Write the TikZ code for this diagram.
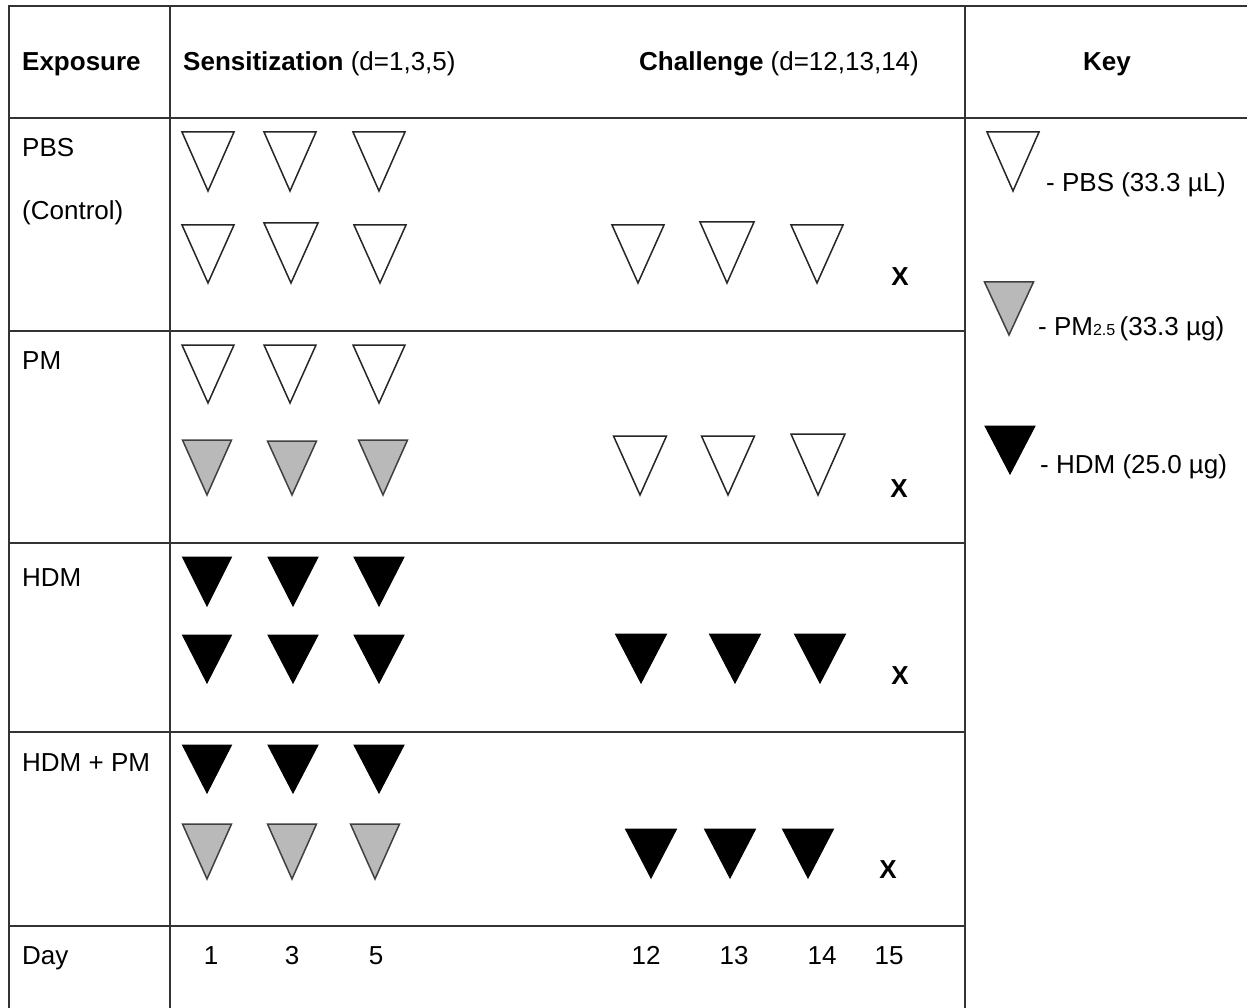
\documentclass[tikz,border=0pt]{standalone}
\usepackage{fontspec}
\setmainfont{Liberation Sans}
\newcommand\mytri[5]{\draw[#1] ({#2-#4/2},#3) -- ({#2+#4/2},#3) -- (#2,{#3+#5}) -- cycle;}
\begin{document}
\begin{tikzpicture}[x=1pt,y=-1pt,
  gridline/.style={draw=black!80, line width=2pt},
  wtri/.style={draw=black!85, fill=white, line width=1.5pt, line join=miter},
  gtri/.style={draw=black!75, fill=gray!55, line width=1.5pt, line join=miter},
  btri/.style={draw=black, fill=black, line width=1pt, line join=miter},
  txt/.style={anchor=base west, inner sep=0pt, font=\fontsize{26}{30}\selectfont},
  ctxt/.style={anchor=base, inner sep=0pt, font=\fontsize{26}{30}\selectfont}]
\useasboundingbox[fill=white] (0,0) rectangle (1247,1008);
% table
\draw[gridline] (9,1008) -- (9,6) -- (1247,6);
\draw[gridline] (9,118) -- (1247,118);
\draw[gridline] (170,6) -- (170,1008);
\draw[gridline] (965,6) -- (965,1008);
\foreach \yy in {331,543,732,926} \draw[gridline] (9,\yy) -- (965,\yy);
% headers
\node[txt] (hexp) at (22,71) {\textbf{Exposure}};
\node[txt] (hsens) at (183,71) {\textbf{Sensitization} (d=1,3,5)};
\node[txt] (hchal) at (639,71) {\textbf{Challenge} (d=12,13,14)};
\node[ctxt] (hkey) at (1107,71) {\textbf{Key}};
% row labels
\node[txt] (lpbs) at (22,157) {PBS};
\node[txt] (lctrl) at (22,220) {(Control)};
\node[txt] (lpm) at (22,369) {PM};
\node[txt] (lhdm) at (22,586) {HDM};
\node[txt] (lhdmpm) at (22,771) {HDM + PM};
\node[txt] (lday) at (22,964) {Day};
% day numbers
\node[ctxt] (d1) at (211,964) {1};
\node[ctxt] (d3) at (292,964) {3};
\node[ctxt] (d5) at (376,964) {5};
\node[ctxt] (d12) at (646,964) {12};
\node[ctxt] (d13) at (734,964) {13};
\node[ctxt] (d14) at (822,964) {14};
\node[ctxt] (d15) at (889,964) {15};
% PBS row
\mytri{wtri}{208}{132}{52}{59}
\mytri{wtri}{290}{132}{52}{59}
\mytri{wtri}{379}{132}{52}{59}
\mytri{wtri}{208}{225}{52}{58}
\mytri{wtri}{291}{223}{54}{60}
\mytri{wtri}{380}{225}{52}{58}
\mytri{wtri}{638}{225}{52}{58}
\mytri{wtri}{727}{222}{54}{61}
\mytri{wtri}{817}{225}{52}{58}
\node[ctxt] (x1) at (900,285) {\textbf{X}};
% PM row
\mytri{wtri}{208}{345}{52}{58}
\mytri{wtri}{290}{345}{52}{58}
\mytri{wtri}{379}{345}{52}{58}
\mytri{gtri}{207}{440}{49}{55}
\mytri{gtri}{292}{441}{49}{54}
\mytri{gtri}{383}{440}{49}{55}
\mytri{wtri}{640}{436}{53}{59}
\mytri{wtri}{728}{436}{53}{59}
\mytri{wtri}{818}{434}{54}{61}
\node[ctxt] (x2) at (899,497) {\textbf{X}};
% HDM row
\mytri{btri}{207}{557}{49}{49}
\mytri{btri}{293}{557}{50}{49}
\mytri{btri}{379}{557}{50}{49}
\mytri{btri}{207}{635}{49}{48}
\mytri{btri}{293}{635}{50}{48}
\mytri{btri}{379}{635}{50}{48}
\mytri{btri}{641}{634}{51}{49}
\mytri{btri}{735}{634}{51}{49}
\mytri{btri}{820}{634}{51}{49}
\node[ctxt] (x3) at (900,684) {\textbf{X}};
% HDM + PM row
\mytri{btri}{207}{745}{49}{48}
\mytri{btri}{293}{745}{50}{48}
\mytri{btri}{379}{745}{50}{48}
\mytri{gtri}{207}{824}{49}{55}
\mytri{gtri}{292}{824}{49}{55}
\mytri{gtri}{375}{824}{49}{55}
\mytri{btri}{651}{829}{51}{49}
\mytri{btri}{730}{829}{51}{49}
\mytri{btri}{808}{829}{51}{49}
\node[ctxt] (x4) at (888,878) {\textbf{X}};
% key
\mytri{wtri}{1013}{132}{52}{59}
\node[txt] (kpbs) at (1046,192) {- PBS (33.3 µL)};
\mytri{gtri}{1009}{282}{49}{53}
\node[txt] (kpm) at (1038,335) {- PM{\fontsize{16}{16}\selectfont 2.5}\,(33.3 µg)};
\mytri{btri}{1010}{426}{50}{48}
\node[txt] (khdm) at (1040,473) {- HDM (25.0 µg)};
\end{tikzpicture}
\end{document}
